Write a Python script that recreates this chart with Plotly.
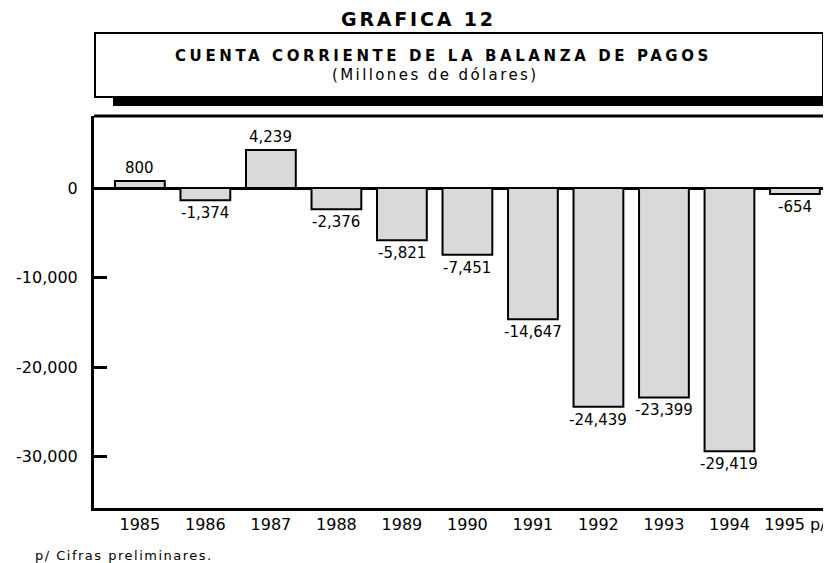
import plotly.graph_objects as go

years = ["1985", "1986", "1987", "1988", "1989", "1990", "1991", "1992", "1993", "1994", "1995 p/"]
values = [800, -1374, 4239, -2376, -5821, -7451, -14647, -24439, -23399, -29419, -654]
ytick_vals = [0, -10000, -20000, -30000]
ytick_text = ["0", "-10,000", "-20,000", "-30,000"]

title_main = "GRAFICA 12"
title_box = "CUENTA CORRIENTE DE LA BALANZA DE PAGOS"
subtitle_box = "(Millones de dólares)"
footnote = "p/ Cifras preliminares."

# The page body has an 8px margin, so the figure is shifted by OFF pixels.
OFF = 8
VW, VH = 831, 563
W, H = VW - OFF, VH - OFF
# plot area in page pixels
PL, PR, PT, PB = 94, 831, 116, 508
L = PL - OFF
R = W - (PR - OFF)
T = PT - OFF
B = H - (PB - OFF)
PW = W - L - R
PH = H - T - B


def px_x(px):
    return (px - PL) / PW


def px_y(py):
    return (PB - py) / PH


FONT = "DejaVu Sans"

fig = go.Figure()
fig.add_trace(go.Bar(
    x=list(range(len(years))), y=values,
    marker=dict(color="#d9d9d9", line=dict(color="black", width=2)),
    width=0.76,
    hoverinfo="skip",
))

annotations = []
for i, v in enumerate(values):
    annotations.append(dict(
        x=i, y=v, xref="x", yref="y",
        text=f"{v:,}", showarrow=False,
        yanchor="middle", xanchor="center",
        yshift=13 if v > 0 else -13,
        font=dict(family=FONT, size=15, color="black"),
    ))

annotations += [
    dict(x=px_x(418), y=px_y(19), xref="paper", yref="paper", showarrow=False,
         text=f"<span style='letter-spacing:2.8px'><b>{title_main}</b></span>",
         xanchor="center", yanchor="middle",
         font=dict(family=FONT, size=19, color="black")),
    dict(x=px_x(443), y=px_y(55.5), xref="paper", yref="paper", showarrow=False,
         text=f"<span style='letter-spacing:3.6px'><b>{title_box}</b></span>",
         xanchor="center", yanchor="middle",
         font=dict(family=FONT, size=15, color="black")),
    dict(x=px_x(435), y=px_y(75), xref="paper", yref="paper", showarrow=False,
         text=f"<span style='letter-spacing:2.4px'>{subtitle_box}</span>",
         xanchor="center", yanchor="middle",
         font=dict(family=FONT, size=15, color="black")),
    dict(x=px_x(33), y=px_y(555), xref="paper", yref="paper", showarrow=False,
         text=f"<span style='letter-spacing:1.5px'>{footnote}</span>",
         xanchor="left", yanchor="middle",
         font=dict(family=FONT, size=13, color="black")),
]

shapes = [
    dict(type="rect", xref="paper", yref="paper",
         x0=px_x(113), x1=px_x(831), y0=px_y(39), y1=px_y(106),
         fillcolor="black", line=dict(width=0), layer="above"),
    dict(type="rect", xref="paper", yref="paper",
         x0=px_x(95), x1=px_x(823), y0=px_y(33), y1=px_y(97),
         fillcolor="white", line=dict(color="black", width=2), layer="above"),
    dict(type="line", xref="paper", yref="paper",
         x0=0, x1=1, y0=1, y1=1, line=dict(color="black", width=3)),
]

fig.update_layout(
    width=W, height=H,
    margin=dict(l=L, r=R, t=T, b=B, pad=0),
    paper_bgcolor="white", plot_bgcolor="white",
    showlegend=False,
    bargap=0.24,
    annotations=annotations,
    shapes=shapes,
    font=dict(family=FONT, color="black"),
)

fig.update_xaxes(
    range=[-0.70, 10.55],
    tickmode="array", tickvals=list(range(len(years))), ticktext=years,
    showgrid=False, zeroline=False,
    showline=True, linecolor="black", linewidth=3,
    ticks="", ticklen=0, ticklabelstandoff=0,
    tickfont=dict(family=FONT, size=16, color="black"),
    fixedrange=True,
)
fig.update_yaxes(
    range=[-35750, 8050],
    tickmode="array", tickvals=ytick_vals, ticktext=ytick_text,
    showgrid=False,
    zeroline=True, zerolinecolor="black", zerolinewidth=2.5,
    showline=True, linecolor="black", linewidth=3,
    ticks="inside", ticklen=13, tickwidth=3, tickcolor="black",
    ticklabelstandoff=10,
    tickfont=dict(family=FONT, size=16, color="black"),
    fixedrange=True,
)

fig.write_html("out.html", config={"displayModeBar": False})
